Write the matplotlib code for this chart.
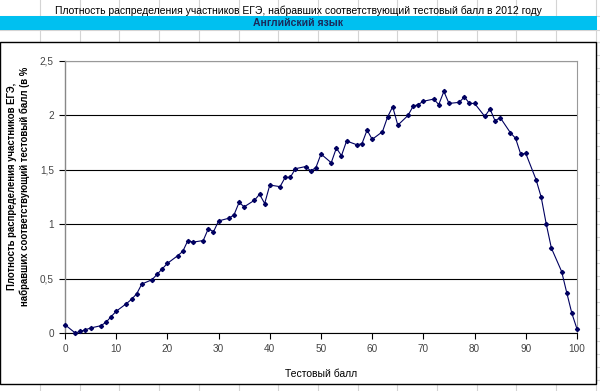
import numpy as np
import matplotlib.pyplot as plt
from matplotlib.lines import Line2D
from matplotlib.patches import Rectangle
from matplotlib.ticker import FuncFormatter

plt.rcParams['font.family'] = ['Liberation Sans', 'DejaVu Sans']

# data (scores with x % 5 == 1 are absent)
scores = [0, 2, 3, 4, 5, 7, 8, 9, 10, 12, 13, 14, 15, 17, 18, 19, 20, 22, 23, 24, 25,
          27, 28, 29, 30, 32, 33, 34, 35, 37, 38, 39, 40, 42, 43, 44, 45, 47, 48, 49, 50,
          52, 53, 54, 55, 57, 58, 59, 60, 62, 63, 64, 65, 67, 68, 69, 70, 72, 73, 74, 75,
          77, 78, 79, 80, 82, 83, 84, 85, 87, 88, 89, 90, 92, 93, 94, 95, 97, 98, 99, 100]
density = [0.076, 0.0, 0.015, 0.03, 0.046, 0.067, 0.098, 0.15, 0.2, 0.27, 0.31, 0.36, 0.45,
           0.49, 0.54, 0.59, 0.64, 0.71, 0.75, 0.85, 0.835, 0.85, 0.96, 0.93, 1.03, 1.055,
           1.085, 1.2, 1.16, 1.22, 1.275, 1.19, 1.36, 1.345, 1.43, 1.43, 1.51, 1.53, 1.49,
           1.52, 1.645, 1.565, 1.70, 1.63, 1.765, 1.73, 1.74, 1.865, 1.78, 1.85, 1.985,
           2.08, 1.91, 2.0, 2.085, 2.10, 2.13, 2.15, 2.10, 2.22, 2.11, 2.12, 2.17, 2.11,
           2.11, 1.99, 2.06, 1.95, 1.98, 1.84, 1.79, 1.645, 1.65, 1.41, 1.25, 1.0, 0.78,
           0.565, 0.37, 0.18, 0.037]

title = 'Плотность распределения участников ЕГЭ, набравших соответствующий тестовый балл в 2012 году'
subject = 'Английский язык'
ylabel = 'Плотность распределения участников ЕГЭ,\nнабравших соответствующий тестовый балл (в %'
xlabel = 'Тестовый балл'

W, H = 600, 391
fig = plt.figure(figsize=(6, 3.91), dpi=100)

def px(x, y):
    return x / W, 1 - y / H

# spreadsheet background grid
grid_c = '#d4d4d4'
for gx in np.arange(40, 600, 39.7):
    fig.add_artist(Line2D([gx / W] * 2, [0, 1], color=grid_c, lw=0.8, zorder=0))
for gy in [16, 30, 42]:
    fig.add_artist(Line2D([0, 1], [1 - gy / H] * 2, color=grid_c, lw=0.8, zorder=0))
for gy in np.arange(42, 391, 13):
    fig.add_artist(Line2D([597 / W, 1], [1 - gy / H] * 2, color=grid_c, lw=0.8, zorder=0))

# title rows
fig.add_artist(Rectangle(px(0, 30), 597 / W, 14 / H, facecolor='#00c0f0',
                         edgecolor='none', zorder=0.5))
fig.text(298 / W, 1 - 10.5 / H, title, ha='center', va='center', fontsize=7.5,
         color='black', zorder=1)
fig.text(298 / W, 1 - 23.5 / H, subject, ha='center', va='center', fontsize=7.5,
         fontweight='bold', color='#1a2a5a', zorder=1)

# chart area
fig.add_artist(Rectangle(px(0, 384), 596 / W, 342 / H, facecolor='white',
                         edgecolor='black', lw=1.0, zorder=0.6))

ax = fig.add_axes([65 / W, 1 - 333 / H, 512 / W, 272 / H])
ax.set_zorder(2)
ax.patch.set_alpha(0)
ax.plot(scores, density, color='#000060', lw=0.8, marker='D', markersize=2.1,
        markerfacecolor='#000060', markeredgecolor='#000060', zorder=3, clip_on=False)

ax.set_xlim(0, 100)
ax.set_ylim(0, 2.5)
ax.set_xticks(np.arange(0, 101, 10))
ax.set_yticks(np.arange(0, 2.51, 0.5))
ax.yaxis.set_major_formatter(FuncFormatter(lambda v, p: ('%g' % v).replace('.', ',')))
ax.grid(axis='y', color='black', lw=0.8)
ax.set_axisbelow(True)

for s in ['top', 'right']:
    ax.spines[s].set_color('#999999')
    ax.spines[s].set_linewidth(0.8)
ax.spines['left'].set_color('#888888')
ax.spines['bottom'].set_color('black')
ax.spines['left'].set_linewidth(1.0)
ax.spines['bottom'].set_linewidth(0.8)
ax.tick_params(axis='both', direction='out', length=4, width=0.8, labelsize=7.2,
               labelcolor='#444444', color='black', pad=4)

ax.set_xlabel(xlabel, fontsize=7.5, labelpad=11)
ax.set_ylabel(ylabel, fontsize=6.9, fontweight='bold', linespacing=1.35)
ax.yaxis.set_label_coords(-0.068, 0.54)

fig.savefig('out.png', dpi=100)
